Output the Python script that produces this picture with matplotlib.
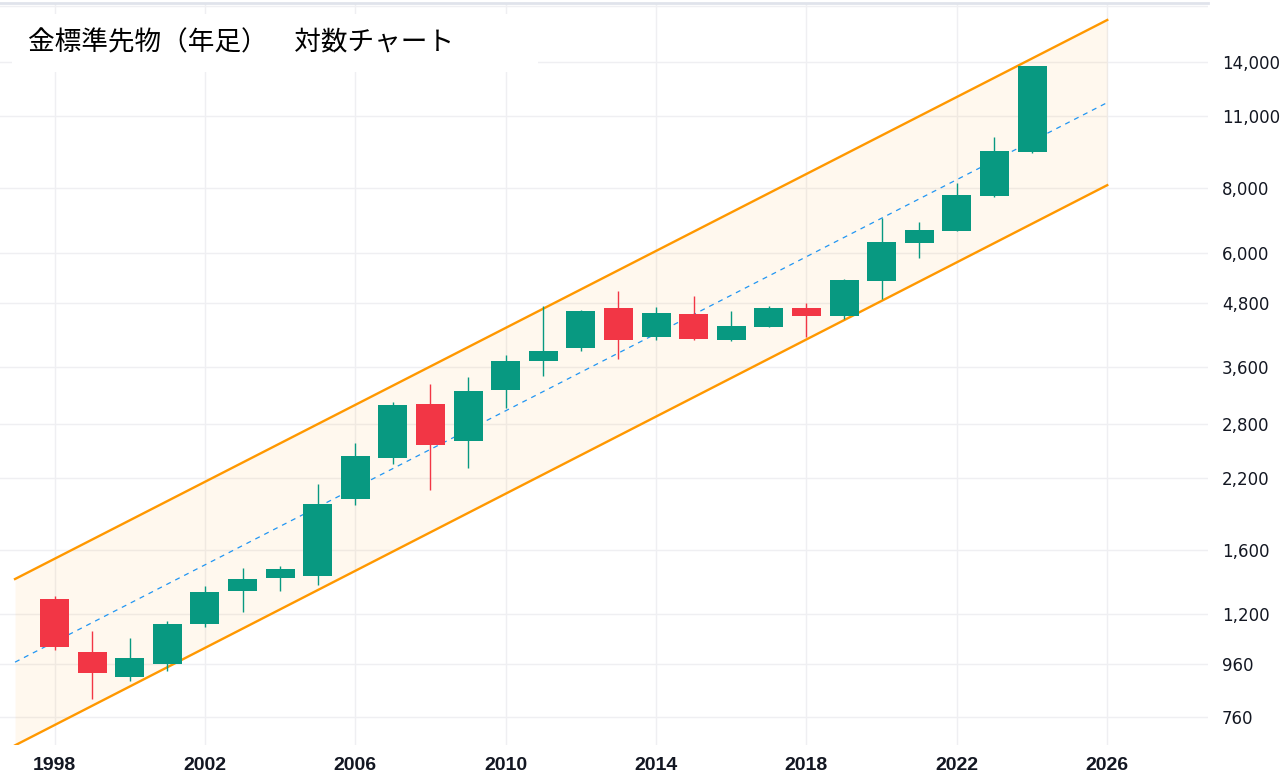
# 金標準先物 年足ローソク足 + 回帰チャネル (対数軸)

import numpy as np
import matplotlib.pyplot as plt
from matplotlib.patches import Rectangle
from matplotlib.ticker import FixedLocator, FuncFormatter, NullLocator

# Data
years = list(range(1998, 2025))
opens = [1285, 1015, 909, 963, 1151, 1333, 1412, 1425, 2007, 2409, 3059, 2598, 3259, 3708,
         3929, 4688, 4126, 4564, 4066, 4314, 4688, 4530, 5293, 6268, 6612, 7726, 9396]
highs = [1304, 1116, 1080, 1165, 1363, 1477, 1488, 2143, 2575, 3086, 3343, 3449, 3803, 4730,
         4646, 5056, 4715, 4951, 4626, 4736, 4793, 5333, 7006, 6863, 8164, 10030, 13757]
lows = [1024, 824, 893, 934, 1136, 1214, 1333, 1369, 1954, 2345, 2086, 2304, 3005, 3469,
        3872, 3736, 4066, 4066, 4048, 4314, 4126, 4458, 4886, 5864, 6612, 7671, 9354]
closes = [1039, 926, 988, 1149, 1325, 1404, 1468, 1960, 2427, 3045, 2552, 3240, 3703, 3872,
          4626, 4066, 4585, 4084, 4327, 4688, 4530, 5310, 6288, 6632, 7750, 9425, 13757]

# regression channel end points
chan_years = [1996.95, 2026]
chan_upper = [1404, 16880]
chan_lower = [670, 8096]
chan_mid = [970, 11690]

yticks = [760, 960, 1200, 1600, 2200, 2800, 3600, 4800, 6000, 8000, 11000, 14000]
xticks = [1998, 2002, 2006, 2010, 2014, 2018, 2022, 2026]

title = "金標準先物（年足）　対数チャート"

up_col = "#089981"
down_col = "#F23645"
chan_col = "#FF9800"
grid_col = "#efeff2"
text_col = "#131722"

fig = plt.figure(figsize=(12.86, 7.82), dpi=100)
ax = fig.add_axes([0.0, 37 / 782, 1208 / 1286, 1 - 40 / 782])
ax.set_yscale("log")

# channel
ax.fill_between(chan_years, chan_lower, chan_upper, color=chan_col, alpha=0.065, lw=0, zorder=1)
ax.plot(chan_years, chan_upper, color=chan_col, lw=1.7, zorder=2)
ax.plot(chan_years, chan_lower, color=chan_col, lw=1.7, zorder=2)
ax.plot(chan_years, chan_mid, color="#2196F3", lw=0.9, dashes=(4, 4), zorder=2)

# candles
for i in range(len(years)):
	o, h, l, c = opens[i], highs[i], lows[i], closes[i]
	col = up_col if c >= o else down_col
	ax.vlines(years[i], l, h, color=col, lw=1.0, zorder=3)
	lo = min(o, c)
	hi = max(o, c)
	if hi / lo < 1.004:
		hi = lo * 1.004
	ax.bar(years[i], hi - lo, bottom=lo, width=0.77, color=col, lw=0, zorder=4)

ax.set_xlim(1996.55, 2028.68)
ax.set_ylim(671, 18205)

ax.yaxis.set_major_locator(FixedLocator(yticks))
ax.yaxis.set_minor_locator(FixedLocator([18000]))
ax.yaxis.set_major_formatter(FuncFormatter(lambda v, p: "{:,}".format(int(round(v)))))
ax.yaxis.set_minor_formatter(FuncFormatter(lambda v, p: ""))
ax.yaxis.tick_right()
ax.tick_params(axis="y", which="both", length=0, pad=10, labelsize=12, labelcolor=text_col)
for lab in ax.get_yticklabels():
	lab.set_horizontalalignment("left")

ax.set_xticks(xticks)
ax.set_xticklabels([str(x) for x in xticks])
ax.tick_params(axis="x", length=0, pad=9, labelcolor=text_col)
for lab in ax.get_xticklabels():
	lab.set_fontfamily("Liberation Sans")
	lab.set_fontweight("bold")
	lab.set_fontsize(14)

ax.grid(True, which="both", color=grid_col, lw=1.0, zorder=0)
ax.set_axisbelow(True)
for s in ["left", "right", "bottom"]:
	ax.spines[s].set_visible(False)
ax.spines["top"].set_color("#e0e3eb")
ax.spines["top"].set_linewidth(2)

# title box
fig.add_artist(Rectangle((12 / 1286, 1 - 72 / 782), 526 / 1286, 58 / 782,
                         transform=fig.transFigure, facecolor="white", edgecolor="none", zorder=5))
fig.text(28 / 1286, 1 - 43 / 782, title, fontsize=19.2, color="#000000",
         family=["Noto Sans CJK JP", "DejaVu Sans"], va="center", ha="left", zorder=6)

fig.savefig("out.png", dpi=100, facecolor="white")
